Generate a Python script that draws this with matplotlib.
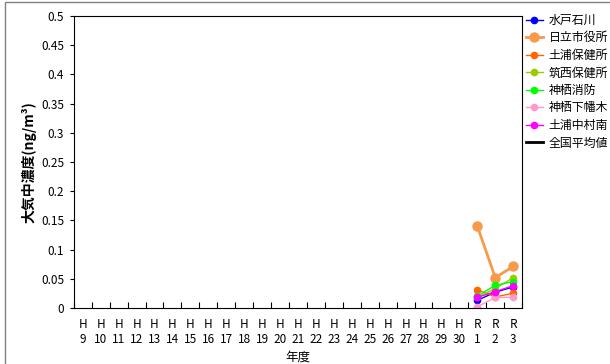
import matplotlib
matplotlib.use("Agg")
import matplotlib.pyplot as plt
import numpy as np
from matplotlib.patches import Rectangle

plt.rcParams['font.family'] = ['Noto Sans CJK JP', 'DejaVu Sans']

years = [f"H\n{n}" for n in range(9, 31)] + ["R\n1", "R\n2", "R\n3"]
n_pre = 22  # H9..H30 have no measurements

stations = ["水戸石川", "日立市役所", "土浦保健所", "筑西保健所", "神栖消防", "神栖下幡木", "土浦中村南"]
mito = [0.013, 0.027, 0.036]
hitachi = [0.140, 0.052, 0.071]
tsuchiura_hc = [0.031, 0.019, 0.025]
chikusei = [0.018, 0.033, 0.052]
kamisu_fd = [0.020, 0.039, 0.045]
kamisu_shimohataki = [0.002, 0.018, 0.018]
tsuchiura_nakamura = [0.018, 0.028, 0.038]
national_avg = []

series = [mito, hitachi, tsuchiura_hc, chikusei, kamisu_fd, kamisu_shimohataki, tsuchiura_nakamura]
colors = ["#0000FF", "#F79A4A", "#FF6600", "#99CC00", "#00FF00", "#FF99CC", "#FF00FF"]
widths = [1.0, 2.0, 1.0, 1.0, 1.0, 1.0, 1.0]
msizes = [4.5, 6.5, 4.5, 4.5, 4.5, 4.5, 4.5]

fig = plt.figure(figsize=(6.10, 3.64), dpi=100)
ax = fig.add_axes([0.121, 0.154, 0.735, 0.802])

x = np.arange(len(years))
for name, vals, c, lw, ms in zip(stations, series, colors, widths, msizes):
    ax.plot(x[n_pre:n_pre + len(vals)], vals, color=c, lw=lw, marker='o', ms=ms, label=name)
ax.plot(x[:len(national_avg)], national_avg, color='black', lw=2, label="全国平均値")

ax.set_xlim(-0.5, len(years) - 0.5)
ax.set_ylim(0, 0.5)
ax.set_yticks(np.arange(0, 0.501, 0.05))
ax.set_yticklabels(["0", "0.05", "0.1", "0.15", "0.2", "0.25", "0.3", "0.35", "0.4", "0.45", "0.5"])
ax.set_xticks(x)
ax.set_xticklabels(years, linespacing=1.25)
ax.tick_params(axis='x', length=0, labelsize=8.5, pad=7)
ax.set_xticks(np.arange(-0.5, len(years), 1), minor=True)
ax.tick_params(axis='x', which='minor', direction='in', length=4, width=0.8)
ax.tick_params(axis='y', direction='out', length=3, width=0.8, labelsize=8.5, pad=4)
for s in ax.spines.values():
    s.set_linewidth(0.8)

ax.set_ylabel("大気中濃度(ng/m³)", fontsize=10, fontweight='bold', labelpad=3)
ax.set_xlabel("年度", fontsize=9, labelpad=3)

leg = ax.legend(loc='upper left', bbox_to_anchor=(1.0, 1.02), frameon=False,
                fontsize=8.6, handlelength=1.45, handletextpad=0.45,
                labelspacing=0.38, borderaxespad=0.0, borderpad=0.3)

# outer frame
fig.patches.append(Rectangle((0.008, -0.01), 1.5, 1.0045, transform=fig.transFigure,
                             fill=False, edgecolor='#808080', lw=1.0))

fig.savefig("out.png", dpi=100)
